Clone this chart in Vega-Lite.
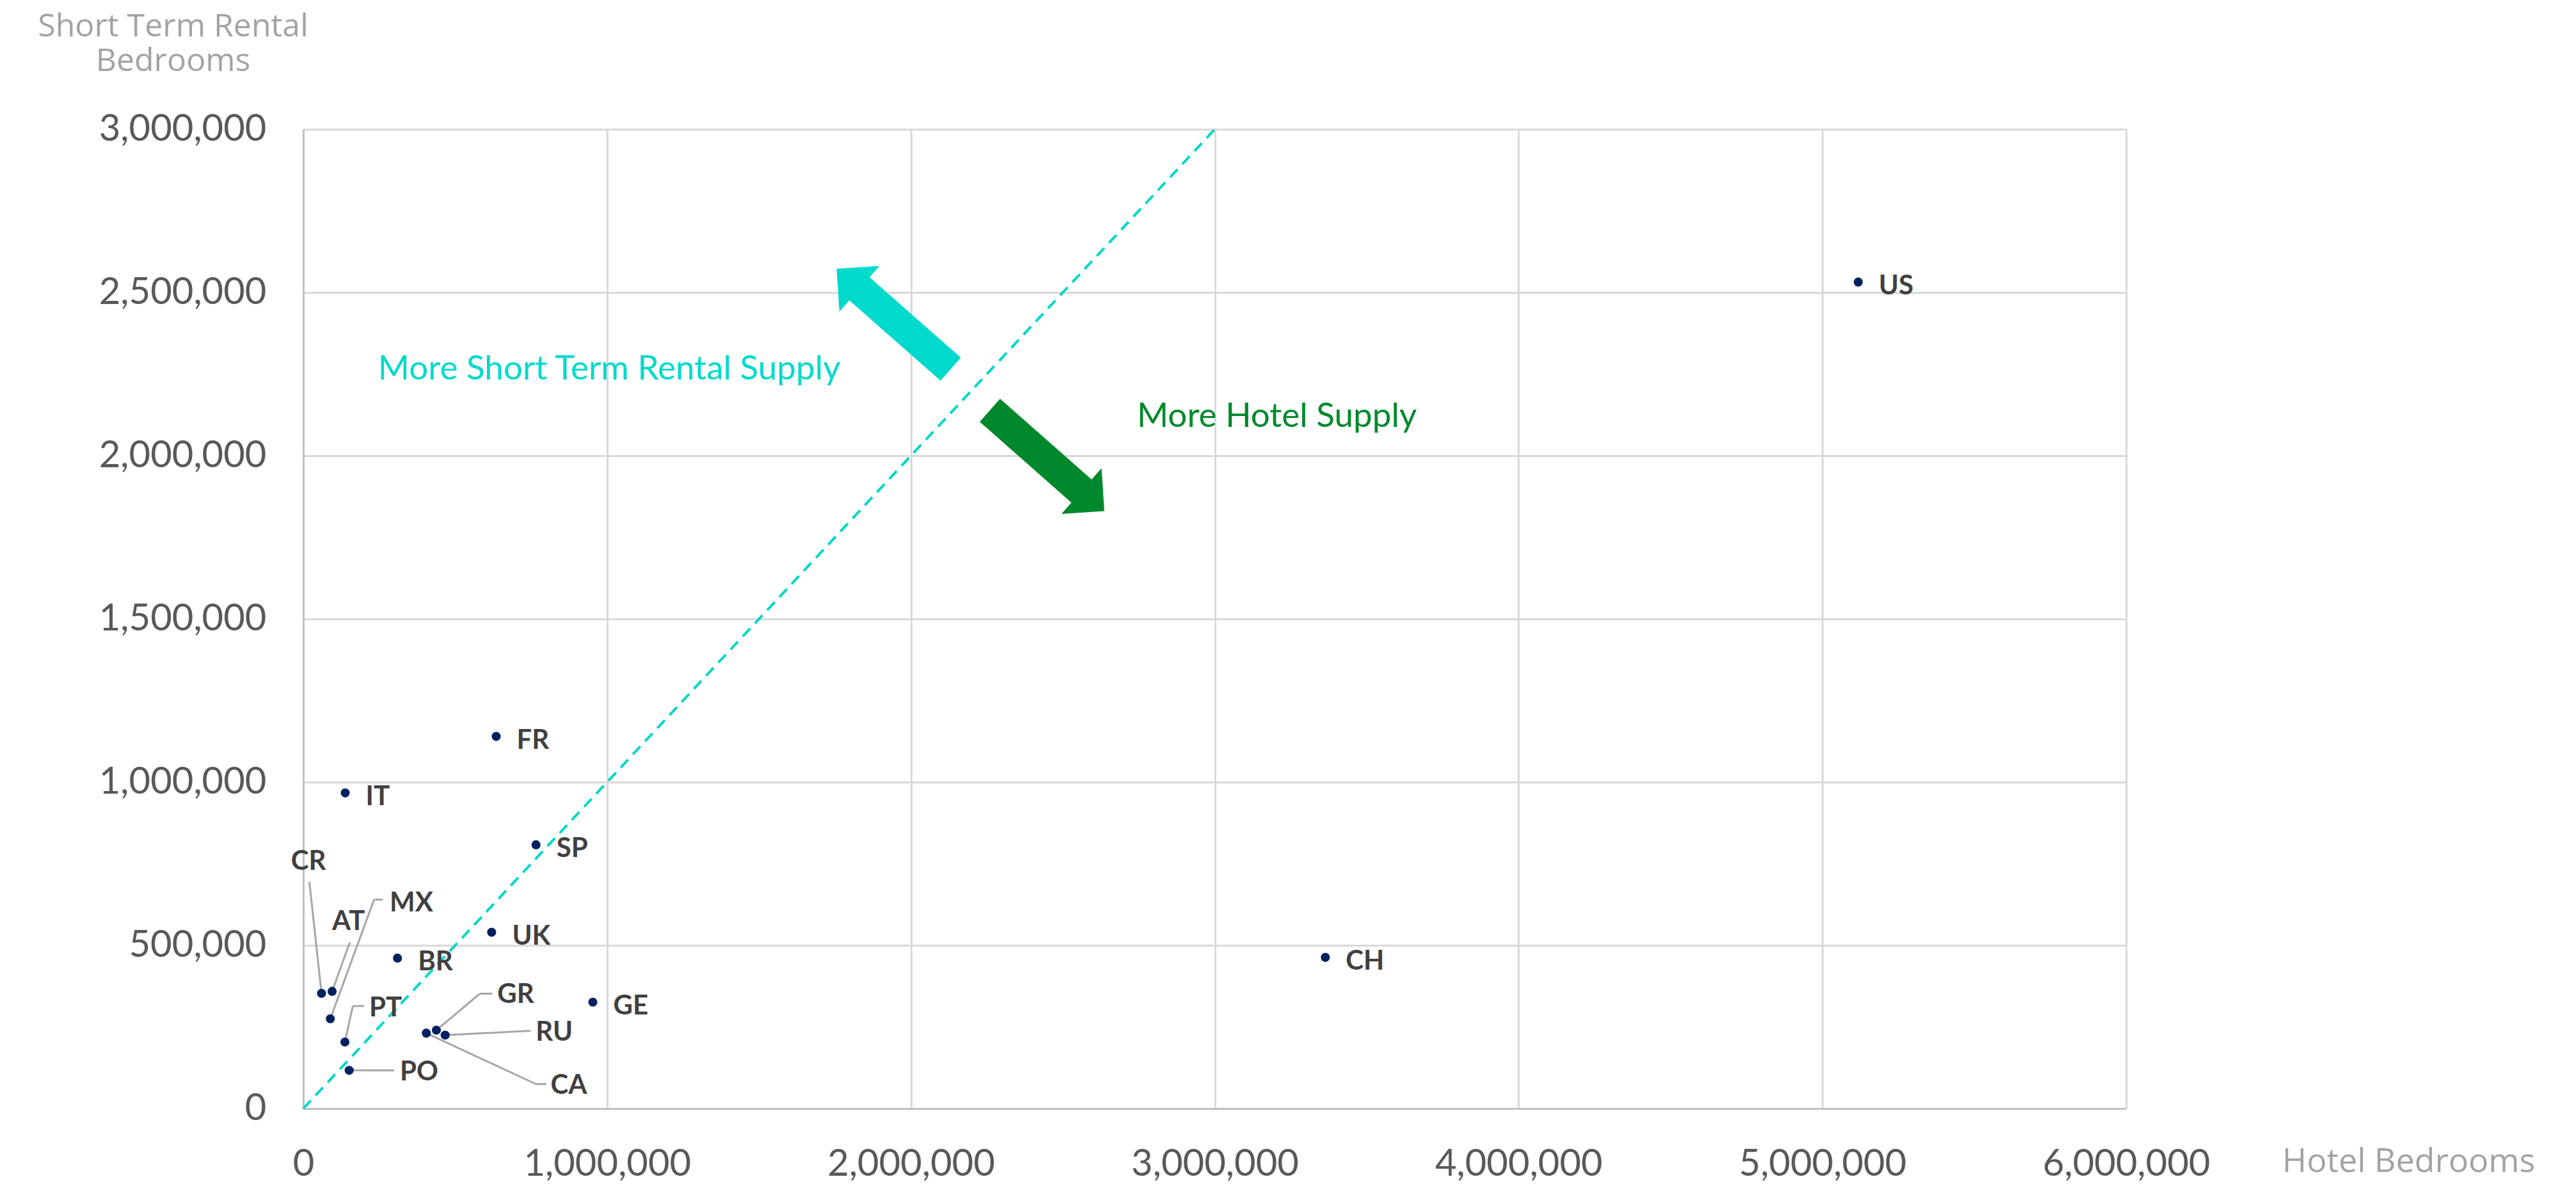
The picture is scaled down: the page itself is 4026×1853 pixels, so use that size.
{
  "$schema": "https://vega.github.io/schema/vega-lite/v6.json",
  "width": 2849,
  "height": 1530,
  "autosize": {"type": "none"},
  "padding": {"left": 474, "top": 202, "right": 703, "bottom": 121},
  "background": "white",
  "config": {"view": {"stroke": null}, "font": "Lato"},
  "datasets": {
    "diag": [{"x": 0, "y": 0}, {"x": 3000000, "y": 3000000}],
    "shaftStr": [{"x": 2131000, "y": 2265000}, {"x": 1793000, "y": 2542000}],
    "shaftHotel": [{"x": 2260000, "y": 2139000}, {"x": 2599000, "y": 1861000}],
    "heads": [
      {"arrow": "str", "x": 1793000, "y": 2542000},
      {"arrow": "hotel", "x": 2599000, "y": 1861000}
    ],
    "countries": [
      {"code": "US", "x": 5118000, "y": 2532000, "side": "right"},
      {"code": "CH", "x": 3364000, "y": 463000, "side": "right"},
      {"code": "FR", "x": 635000, "y": 1140000, "side": "right"},
      {"code": "IT", "x": 138000, "y": 967000, "side": "right"},
      {"code": "SP", "x": 766000, "y": 808000, "side": "right"},
      {"code": "UK", "x": 620000, "y": 540000, "side": "right"},
      {"code": "BR", "x": 310000, "y": 461000, "side": "right"},
      {"code": "GE", "x": 953000, "y": 326000, "side": "right"},
      {"code": "CR", "x": 60000, "y": 353000, "side": "leader"},
      {"code": "AT", "x": 95000, "y": 359000, "side": "leader"},
      {"code": "MX", "x": 89000, "y": 275000, "side": "leader"},
      {"code": "PT", "x": 137000, "y": 204000, "side": "leader"},
      {"code": "PO", "x": 151000, "y": 117000, "side": "leader"},
      {"code": "GR", "x": 438000, "y": 240000, "side": "leader"},
      {"code": "RU", "x": 467000, "y": 225000, "side": "leader"},
      {"code": "CA", "x": 405000, "y": 231000, "side": "leader"}
    ],
    "leaders": [
      {"code": "CR", "x": 60000, "y": 353000, "x2": 20000, "y2": 695000},
      {"code": "AT", "x": 95000, "y": 359000, "x2": 153000, "y2": 509000},
      {"code": "MX", "x": 89000, "y": 275000, "x2": 233000, "y2": 640000},
      {"code": "MX", "x": 233000, "y": 640000, "x2": 262000, "y2": 640000},
      {"code": "PT", "x": 137000, "y": 204000, "x2": 163000, "y2": 314000},
      {"code": "PT", "x": 163000, "y": 314000, "x2": 200000, "y2": 314000},
      {"code": "PO", "x": 151000, "y": 117000, "x2": 299000, "y2": 117000},
      {"code": "GR", "x": 438000, "y": 240000, "x2": 581000, "y2": 352000},
      {"code": "GR", "x": 581000, "y": 352000, "x2": 622000, "y2": 352000},
      {"code": "RU", "x": 467000, "y": 225000, "x2": 748000, "y2": 238000},
      {"code": "CA", "x": 405000, "y": 231000, "x2": 766000, "y2": 75000},
      {"code": "CA", "x": 766000, "y": 75000, "x2": 800000, "y2": 75000}
    ],
    "leaderLabels": [
      {"code": "CR", "x": 17000, "y": 763000},
      {"code": "AT", "x": 149000, "y": 579000},
      {"code": "MX", "x": 356000, "y": 636000},
      {"code": "PT", "x": 271000, "y": 314000},
      {"code": "PO", "x": 381000, "y": 118000},
      {"code": "GR", "x": 699000, "y": 354000},
      {"code": "RU", "x": 826000, "y": 240000},
      {"code": "CA", "x": 874000, "y": 77000}
    ],
    "notes": [
      {"text": "More Short Term Rental Supply", "x": 246000, "y": 2233000, "group": "str"},
      {"text": "More Hotel Supply", "x": 2744000, "y": 2088000, "group": "hotel"}
    ]
  },
  "encoding": {
    "x": {
      "field": "x",
      "type": "quantitative",
      "scale": {"domain": [0, 6000000], "nice": false, "zero": false},
      "axis": {
        "title": "Hotel Bedrooms",
        "values": [0, 1000000, 2000000, 3000000, 4000000, 5000000, 6000000],
        "format": ",.0f",
        "labelFont": "Lato",
        "labelFontSize": 58,
        "labelColor": "#595959",
        "labelPadding": 58,
        "labelBaseline": "top",
        "labelFlush": false,
        "labelOverlap": false,
        "labelLimit": 0,
        "ticks": false,
        "domain": true,
        "domainColor": "#BFBFBF",
        "domainWidth": 3,
        "grid": true,
        "gridColor": "#D9D9D9",
        "gridWidth": 3,
        "titleFont": "Open Sans",
        "titleFontWeight": "normal",
        "titleFontSize": 52,
        "titleColor": "#A3A3A3",
        "titleAnchor": null,
        "titleAlign": "center",
        "titleBaseline": "alphabetic",
        "titleLimit": 0,
        "titleX": 3290,
        "titleY": 98
      }
    },
    "y": {
      "field": "y",
      "type": "quantitative",
      "scale": {"domain": [0, 3000000], "nice": false, "zero": false},
      "axis": {
        "title": ["Short Term Rental", "Bedrooms"],
        "values": [0, 500000, 1000000, 1500000, 2000000, 2500000, 3000000],
        "format": ",.0f",
        "labelFont": "Lato",
        "labelFontSize": 58,
        "labelColor": "#595959",
        "labelPadding": 58,
        "labelFlush": false,
        "labelOverlap": false,
        "labelLimit": 0,
        "ticks": false,
        "domain": true,
        "domainColor": "#BFBFBF",
        "domainWidth": 3,
        "grid": true,
        "gridColor": "#D9D9D9",
        "gridWidth": 3,
        "titleFont": "Open Sans",
        "titleFontWeight": "normal",
        "titleFontSize": 50,
        "titleColor": "#A3A3A3",
        "titleAngle": 0,
        "titleAnchor": null,
        "titleAlign": "center",
        "titleBaseline": "alphabetic",
        "titleLineHeight": 54,
        "titleLimit": 0,
        "titleX": -204,
        "titleY": -146
      }
    }
  },
  "layer": [
    {
      "data": {"name": "diag"},
      "mark": {"type": "line", "color": "#00D6C8", "strokeWidth": 4, "strokeDash": [17, 11]}
    },
    {
      "data": {"name": "leaders"},
      "mark": {"type": "rule", "color": "#A6A6A6", "strokeWidth": 3},
      "encoding": {"x2": {"field": "x2"}, "y2": {"field": "y2"}}
    },
    {
      "data": {"name": "shaftStr"},
      "mark": {"type": "line", "color": "#00DACC", "strokeWidth": 48, "strokeCap": "butt"}
    },
    {
      "data": {"name": "shaftHotel"},
      "mark": {"type": "line", "color": "#00892C", "strokeWidth": 48, "strokeCap": "butt"}
    },
    {
      "data": {"name": "heads"},
      "transform": [{"filter": "datum.arrow == 'str'"}],
      "mark": {"type": "point", "shape": "M0,-0.5L1,0.5L-1,0.5Z", "size": 9025, "angle": 311.3, "filled": true, "color": "#00DACC", "opacity": 1, "strokeWidth": 0}
    },
    {
      "data": {"name": "heads"},
      "transform": [{"filter": "datum.arrow == 'hotel'"}],
      "mark": {"type": "point", "shape": "M0,-0.5L1,0.5L-1,0.5Z", "size": 9025, "angle": 131.3, "filled": true, "color": "#00892C", "opacity": 1, "strokeWidth": 0}
    },
    {
      "data": {"name": "countries"},
      "mark": {"type": "circle", "size": 200, "color": "#002060", "opacity": 1}
    },
    {
      "data": {"name": "countries"},
      "transform": [{"filter": "datum.side == 'right'"}],
      "mark": {"type": "text", "align": "left", "baseline": "middle", "dx": 32, "dy": 6, "font": "Lato", "fontWeight": "bold", "fontSize": 42, "color": "#404040"},
      "encoding": {"text": {"field": "code"}}
    },
    {
      "data": {"name": "leaderLabels"},
      "mark": {"type": "text", "align": "center", "baseline": "middle", "dy": 3, "font": "Lato", "fontWeight": "bold", "fontSize": 42, "color": "#404040"},
      "encoding": {"text": {"field": "code"}}
    },
    {
      "data": {"name": "notes"},
      "transform": [{"filter": "datum.group == 'str'"}],
      "mark": {"type": "text", "align": "left", "baseline": "alphabetic", "font": "Lato", "fontSize": 53, "color": "#00DACC"},
      "encoding": {"text": {"field": "text"}}
    },
    {
      "data": {"name": "notes"},
      "transform": [{"filter": "datum.group == 'hotel'"}],
      "mark": {"type": "text", "align": "left", "baseline": "alphabetic", "font": "Lato", "fontSize": 53, "color": "#00892C"},
      "encoding": {"text": {"field": "text"}}
    }
  ]
}
